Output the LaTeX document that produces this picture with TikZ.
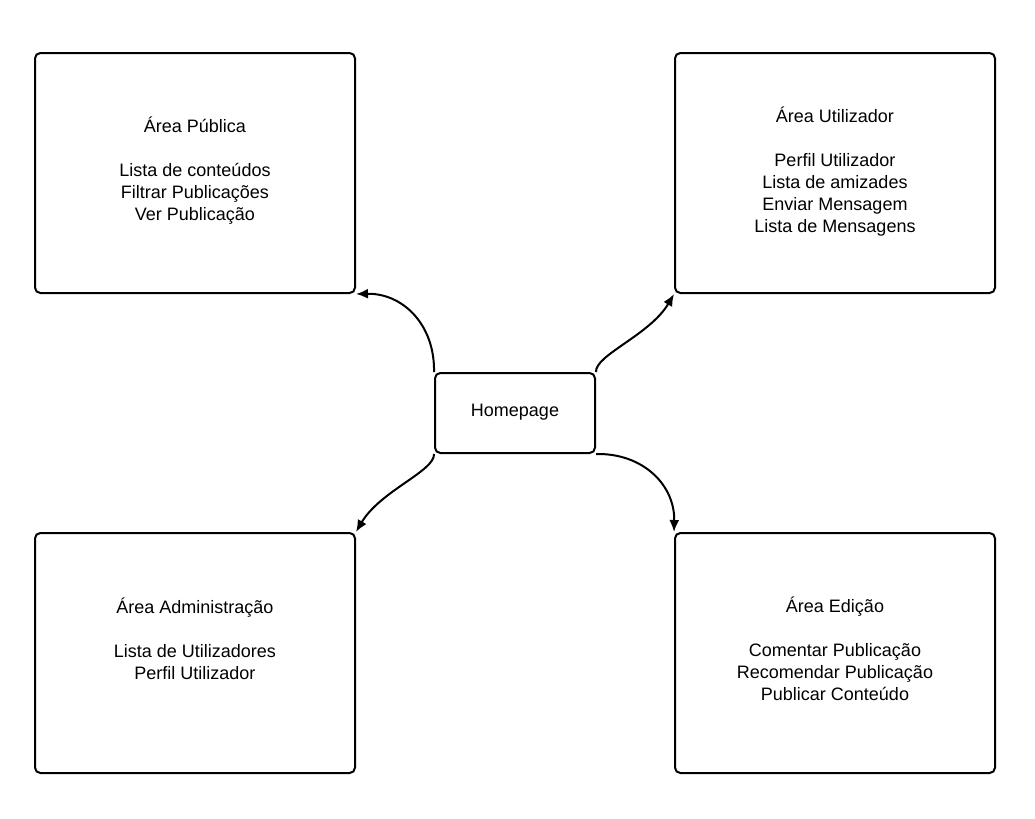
\documentclass[tikz,border=0pt]{standalone}
\usepackage{fontspec}
\setmainfont{Liberation Sans}
\usetikzlibrary{arrows.meta}
\begin{document}
\begin{tikzpicture}[x=0.75pt,y=-0.75pt,
  area/.style={draw=black,line width=1.5pt,rounded corners=4pt,minimum width=240pt,minimum height=180pt,inner sep=0pt},
  homebox/.style={draw=black,line width=1.5pt,rounded corners=4pt,minimum width=120pt,minimum height=60pt,inner sep=0pt},
  lbl/.style={align=center,font=\fontsize{13.5}{16.5}\selectfont,inner sep=0pt},
  conn/.style={line width=1.5pt,-{Latex[length=9pt,width=7.5pt]}}]
\useasboundingbox (0,0) rectangle (1035,818);
\node[area] (pub) at (195,173) {};
\node[area] (usr) at (835,173) {};
\node[area] (adm) at (195,653) {};
\node[area] (edi) at (835,653) {};
\node[homebox] (home) at (515,413) {};
\node[lbl] (homet) at (515,412) {Homepage};
\node[lbl] (pubt) at (195,171) {Área Pública\\[16.5pt]Lista de conteúdos\\Filtrar Publicações\\Ver Publicação};
\node[lbl] (usrt) at (835,171.5) {Área Utilizador\\[16.5pt]Perfil Utilizador\\Lista de amizades\\Enviar Mensagem\\Lista de Mensagens};
\node[lbl] (admt) at (195,639) {Área Administração\\[16.5pt]Lista de Utilizadores\\Perfil Utilizador};
\node[lbl] (edit) at (835,649) {Área Edição\\[16.5pt]Comentar Publicação\\Recomendar Publicação\\Publicar Conteúdo};
\draw[conn] (home.north west) .. controls (435,325) and (403,293) .. (pub.south east);
\draw[conn] (home.north east) .. controls (595,355) and (650,335) .. (usr.south west);
\draw[conn] (home.south west) .. controls (435,471) and (380,491) .. (adm.north east);
\draw[conn] (home.south east) .. controls (643,453) and (675,485) .. (edi.north west);
\end{tikzpicture}
\end{document}
